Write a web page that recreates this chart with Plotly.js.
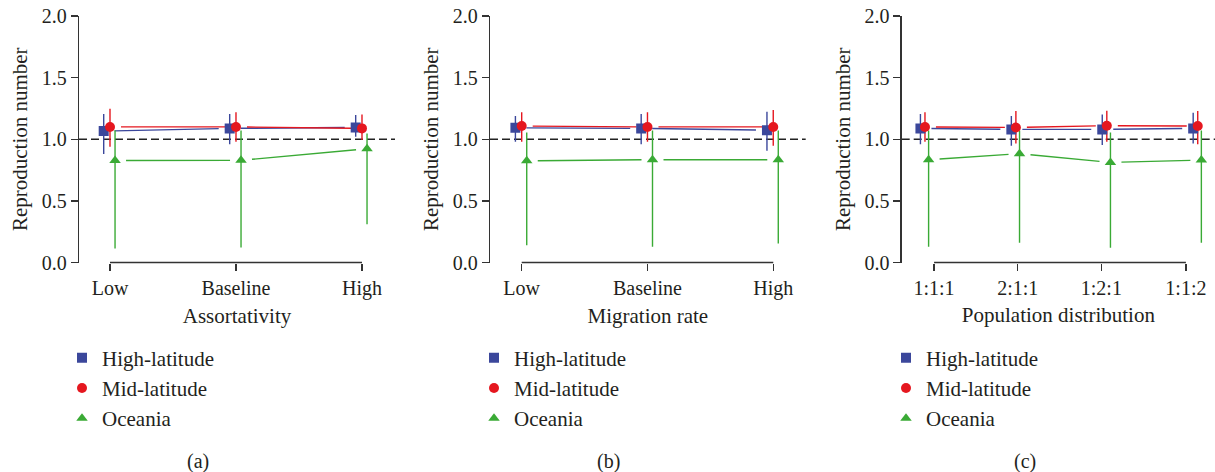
<!DOCTYPE html>
<html>
<head>
<meta charset="utf-8">
<script src="https://cdn.plot.ly/plotly-3.0.1.min.js"></script>
<style>html,body{margin:0;padding:0;background:#fff;}#chart{width:1215px;height:472px;}</style>
</head>
<body>
<div id="chart"></div>
<script>
// ---------- data ----------
const seriesNames = ['High-latitude', 'Mid-latitude', 'Oceania'];

const catsA = ['Low', 'Baseline', 'High'];
const xTitleA = 'Assortativity';
const highLatA = [1.066, 1.088, 1.096];
const highLatA_lo = [0.88, 0.96, 1.02];
const highLatA_hi = [1.204, 1.204, 1.196];
const midLatA = [1.10, 1.10, 1.088];
const midLatA_lo = [0.94, 0.98, 0.993];
const midLatA_hi = [1.248, 1.22, 1.20];
const oceaniaA = [0.828, 0.829, 0.923];
const oceaniaA_lo = [0.114, 0.122, 0.31];
const oceaniaA_hi = [1.074, 1.07, 1.047];

const catsB = ['Low', 'Baseline', 'High'];
const xTitleB = 'Migration rate';
const highLatB = [1.093, 1.088, 1.074];
const highLatB_lo = [0.98, 0.96, 0.907];
const highLatB_hi = [1.188, 1.204, 1.223];
const midLatB = [1.107, 1.10, 1.10];
const midLatB_lo = [0.98, 0.98, 0.947];
const midLatB_hi = [1.22, 1.22, 1.237];
const oceaniaB = [0.825, 0.834, 0.834];
const oceaniaB_lo = [0.14, 0.127, 0.154];
const oceaniaB_hi = [1.055, 1.07, 1.07];

const catsC = ['1:1:1', '2:1:1', '1:2:1', '1:1:2'];
const xTitleC = 'Population distribution';
const highLatC = [1.088, 1.08, 1.08, 1.088];
const highLatC_lo = [0.96, 0.947, 0.953, 0.966];
const highLatC_hi = [1.204, 1.188, 1.20, 1.215];
const midLatC = [1.10, 1.096, 1.11, 1.107];
const midLatC_lo = [0.98, 0.966, 0.98, 0.96];
const midLatC_hi = [1.22, 1.229, 1.231, 1.229];
const oceaniaC = [0.834, 0.883, 0.812, 0.831];
const oceaniaC_lo = [0.127, 0.16, 0.12, 0.16];
const oceaniaC_hi = [1.07, 1.07, 1.055, 1.07];

const panelLabels = ['(a)', '(b)', '(c)'];

// ---------- styling / layout ----------
const W = 1215, H = 472;
const FONT = 'Liberation Serif, DejaVu Serif, serif';
const colors = ['#3b479b', '#e5171f', '#3aaa35'];
const symbols = ['square', 'circle', 'triangle-up'];
const xOffsets = [-0.05, 0, 0.04];
const yTop = 16, yBot = 262.5;
const yDomain = [(H - yBot) / H, (H - yTop) / H];
const pxPerY = (yBot - yTop) / 2;
const gapPx = 11;

const panels = [
  {cats: catsA, title: xTitleA, vals: [highLatA, midLatA, oceaniaA],
   lo: [highLatA_lo, midLatA_lo, oceaniaA_lo], hi: [highLatA_hi, midLatA_hi, oceaniaA_hi],
   px: [79, 395], range: [-0.246, 2.262], tickvals: [0, 1, 2], legendX: 62, labelX: 198},
  {cats: catsB, title: xTitleB, vals: [highLatB, midLatB, oceaniaB],
   lo: [highLatB_lo, midLatB_lo, oceaniaB_lo], hi: [highLatB_hi, midLatB_hi, oceaniaB_hi],
   px: [490, 805.7], range: [-0.252, 2.258], tickvals: [0, 1, 2], legendX: 474, labelX: 608},
  {cats: catsC, title: xTitleC, vals: [highLatC, midLatC, oceaniaC],
   lo: [highLatC_lo, midLatC_lo, oceaniaC_lo], hi: [highLatC_hi, midLatC_hi, oceaniaC_hi],
   px: [901.7, 1215], range: [-0.256, 3.19], tickvals: [0.1, 1.02, 1.94, 2.87], legendX: 886, labelX: 1025}
];

const traces = [];
const layout = {
  width: W, height: H,
  margin: {l: 0, r: 0, t: 0, b: 0},
  paper_bgcolor: '#fff', plot_bgcolor: 'rgba(0,0,0,0)',
  font: {family: FONT, size: 20, color: '#231f20'},
  showlegend: true,
  shapes: [], annotations: []
};

panels.forEach((p, k) => {
  const sfx = k === 0 ? '' : String(k + 1);
  const xa = 'x' + sfx, ya = 'y' + sfx;
  const legendId = 'legend' + sfx;
  const pxPerX = (p.px[1] - p.px[0]) / (p.range[1] - p.range[0]);

  // error bars + connecting segments (under markers)
  p.vals.forEach((v, s) => {
    const xs = v.map((_, i) => i + xOffsets[s]);
    const ex = [], ey = [];
    xs.forEach((x, i) => { ex.push(x, x, null); ey.push(p.lo[s][i], p.hi[s][i], null); });
    traces.push({type: 'scatter', mode: 'lines', x: ex, y: ey, xaxis: xa, yaxis: ya,
      line: {color: colors[s], width: 1.4}, hoverinfo: 'skip', showlegend: false});
    const lx = [], ly = [];
    for (let i = 0; i < xs.length - 1; i++) {
      const dx = xs[i + 1] - xs[i], dy = v[i + 1] - v[i];
      const L = Math.hypot(dx * pxPerX, dy * pxPerY);
      const t = gapPx / L;
      lx.push(xs[i] + t * dx, xs[i + 1] - t * dx, null);
      ly.push(v[i] + t * dy, v[i + 1] - t * dy, null);
    }
    traces.push({type: 'scatter', mode: 'lines', x: lx, y: ly, xaxis: xa, yaxis: ya,
      line: {color: colors[s], width: 1.4}, hoverinfo: 'skip', showlegend: false});
  });
  p.vals.forEach((v, s) => {
    traces.push({type: 'scatter', mode: 'markers', name: seriesNames[s],
      x: v.map((_, i) => i + xOffsets[s]), y: v, xaxis: xa, yaxis: ya,
      marker: {color: colors[s], symbol: symbols[s], size: 10, line: {width: 0}},
      legend: legendId, showlegend: true});
  });

  layout['xaxis' + sfx] = {
    domain: [p.px[0] / W, p.px[1] / W], range: p.range, anchor: ya,
    tickmode: 'array', tickvals: p.tickvals, ticktext: p.cats,
    ticks: 'outside', ticklen: 7, tickwidth: 1.3, tickcolor: '#333',
    showline: false, showgrid: false, zeroline: false, fixedrange: true,
    tickfont: {family: FONT, size: 20},
    title: {text: p.title, font: {family: FONT, size: 21}, standoff: 9}
  };
  layout['yaxis' + sfx] = {
    domain: yDomain, range: [0, 2], anchor: xa,
    tickmode: 'array', tickvals: [0, 0.5, 1, 1.5, 2], ticktext: ['0.0', '0.5', '1.0', '1.5', '2.0'],
    ticks: 'outside', ticklen: 7, tickwidth: 1.3, tickcolor: '#333',
    showline: true, linecolor: '#333', linewidth: 1.3,
    showgrid: false, zeroline: false, fixedrange: true,
    tickfont: {family: FONT, size: 20},
    title: {text: 'Reproduction number', font: {family: FONT, size: 21}, standoff: 8}
  };
  layout.shapes.push({type: 'line', xref: xa, yref: 'paper',
    x0: p.tickvals[0], x1: p.tickvals[p.tickvals.length - 1],
    y0: yDomain[0], y1: yDomain[0], line: {color: '#333', width: 1.3}});
  layout.shapes.push({type: 'line', xref: xa + ' domain', yref: ya, x0: 0, x1: 1, y0: 1, y1: 1,
    layer: 'below', line: {color: '#222', width: 1.3, dash: '8px,4px'}});

  layout[legendId] = {x: p.legendX / W, y: (H - 337.5) / H, xanchor: 'left', yanchor: 'top',
    bgcolor: 'rgba(0,0,0,0)', borderwidth: 0, font: {family: FONT, size: 21}, itemwidth: 30,
    traceorder: 'normal'};

  layout.annotations.push({text: panelLabels[k], xref: 'paper', yref: 'paper',
    x: p.labelX / W, y: (H - 461) / H, xanchor: 'center', yanchor: 'middle',
    showarrow: false, font: {family: FONT, size: 20}});
});

Plotly.newPlot('chart', traces, layout, {displayModeBar: false, staticPlot: true});
</script>
</body>
</html>
